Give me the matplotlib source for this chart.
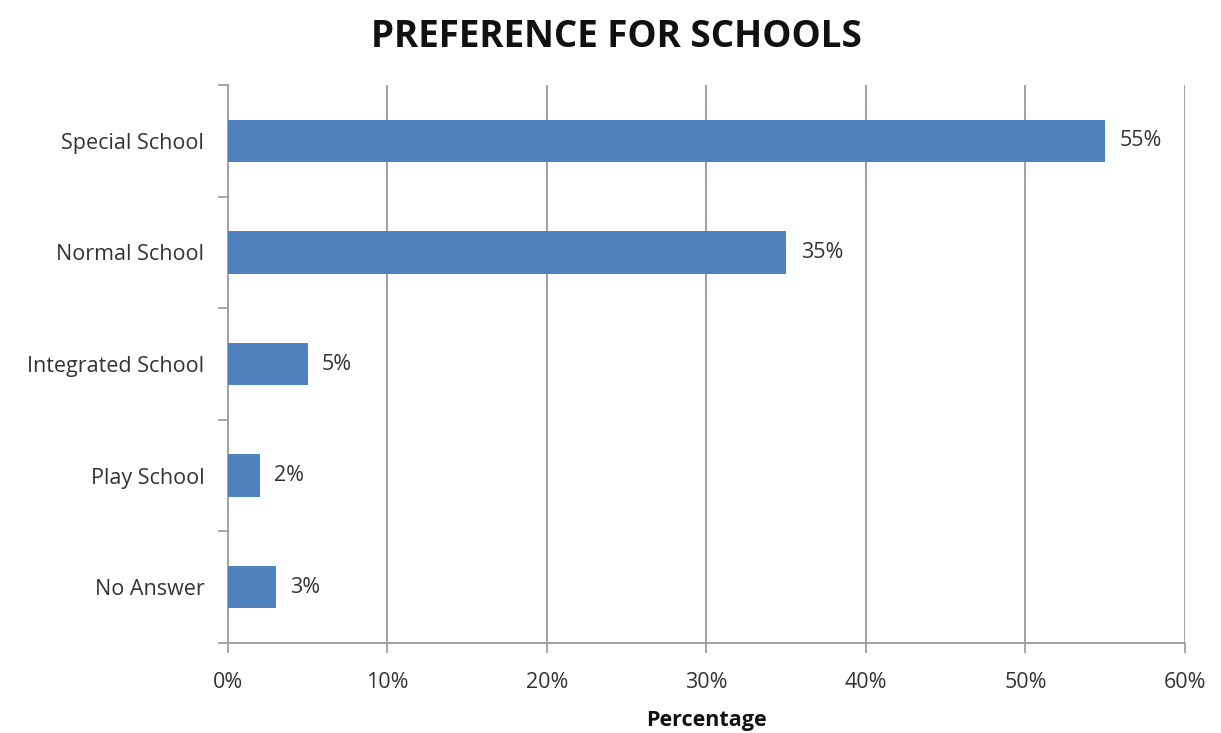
import numpy as np
import matplotlib
matplotlib.use("Agg")
import matplotlib.pyplot as plt
from matplotlib.ticker import FixedLocator

categories = ["Special School", "Normal School", "Integrated School", "Play School", "No Answer"]
values = [55, 35, 5, 2, 3]
xticks = [0, 10, 20, 30, 40, 50, 60]

BAR = "#4F81BD"
GRID = "#A0A0A0"
TXT = "#333333"
FS = 15.5

plt.rcParams["font.family"] = ["Open Sans", "DejaVu Sans"]

fig = plt.figure(figsize=(12.21, 7.33), dpi=100)
ax = fig.add_axes([0.1867, 0.1228, 0.7838, 0.7612])

y = np.arange(len(categories))
ax.barh(y, values, height=0.38, color=BAR, zorder=3)
for yi, v in zip(y, values):
    ax.text(v + 0.9, yi, f"{v}%", va="center", ha="left", fontsize=FS, color=TXT)

ax.set_ylim(len(categories) - 0.5, -0.5)
ax.set_xlim(0, 60)
ax.set_yticks(y)
ax.set_yticklabels(categories, fontsize=FS, color=TXT)
ax.yaxis.set_minor_locator(FixedLocator(np.arange(-0.5, len(categories), 1.0)))
ax.tick_params(axis="y", which="major", length=0, pad=17)
ax.tick_params(axis="y", which="minor", length=7, color=GRID, width=1.3)
ax.set_xticks(xticks)
ax.set_xticklabels([f"{t}%" for t in xticks], fontsize=FS, color=TXT)
ax.tick_params(axis="x", length=7, color=GRID, width=1.3, pad=14)

ax.grid(axis="x", color=GRID, lw=1.4, zorder=0)
for s in ["top", "right"]:
    ax.spines[s].set_visible(False)
for s in ["left", "bottom"]:
    ax.spines[s].set_color(GRID)
    ax.spines[s].set_linewidth(1.4)

ax.set_xlabel("Percentage", fontsize=15.5, fontweight="bold", color="#111111", labelpad=12)
fig.suptitle("PREFERENCE FOR SCHOOLS", fontsize=26.5, fontweight="bold", color="#111111",
             x=0.505, y=0.975)

fig.savefig("out.png", dpi=100)
